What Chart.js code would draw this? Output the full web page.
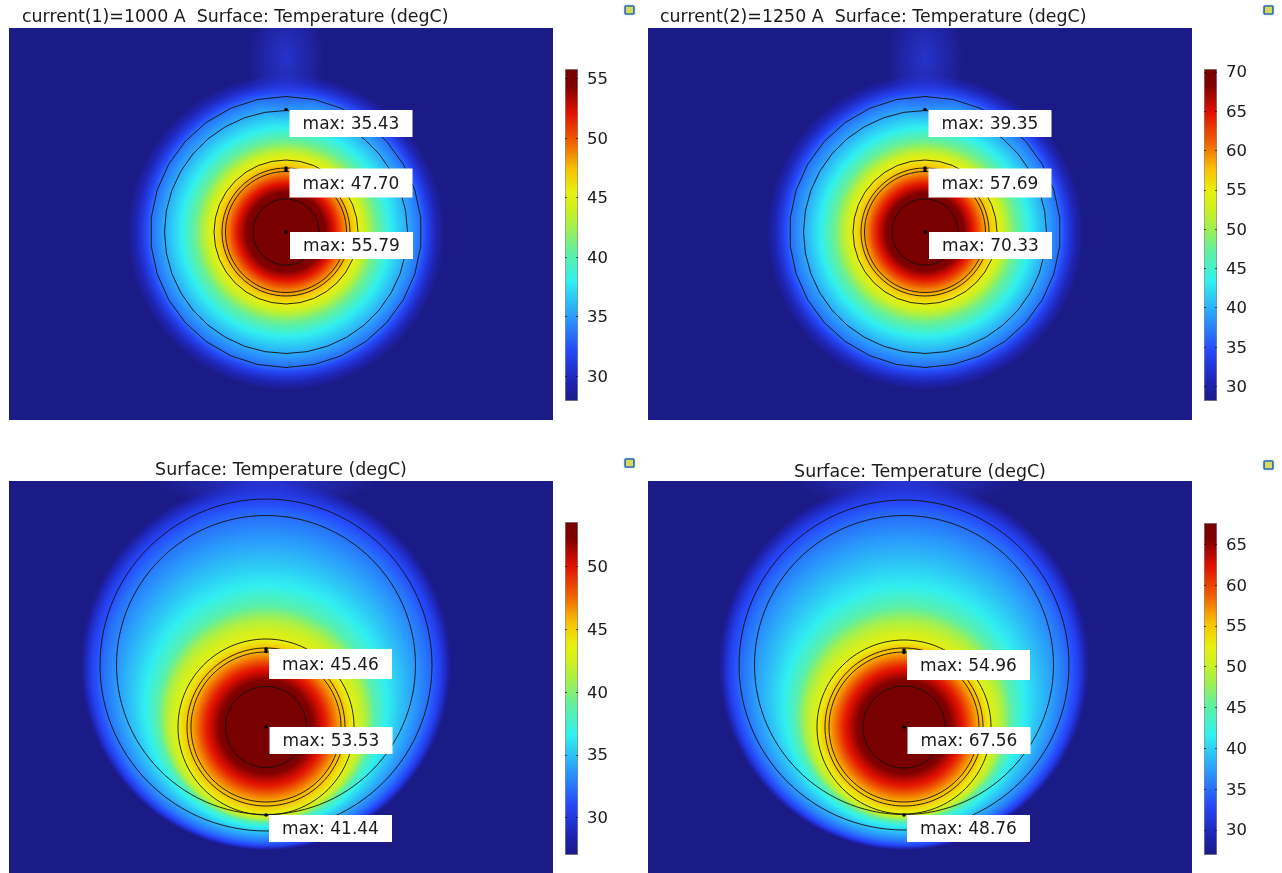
<!DOCTYPE html>
<html>
<head>
<meta charset="utf-8">
<title>Surface temperature</title>
<script src="https://cdn.jsdelivr.net/npm/chart.js@4/dist/chart.umd.min.js"></script>
<style>
  html, body { margin: 0; background: #fff; }
  body { position: relative; width: 1282px; height: 873px; overflow: hidden; }
  canvas { position: absolute; filter: blur(0.45px); }
  .icon { position: absolute; width: 9px; height: 8px; border-radius: 2px; background: #d8d860;
          border: 2px solid #2b6cb0; box-sizing: content-box; box-shadow: 0 0 3px #b8c4d8; transform: scale(.8); }
</style>
</head>
<body>
<script>
/* Four temperature panels. Plot units: x 0..544, y 0..392 from the top-left of each plot */
var TITLES = [
  'current(1)=1000 A  Surface: Temperature (degC)',
  'current(2)=1250 A  Surface: Temperature (degC)',
  'Surface: Temperature (degC)',
  'Surface: Temperature (degC)'
];
var TITLE_ALIGN = ['start', 'start', 'center', 'center'];
var TITLE_INSET = [13, 12, 0, 0];
var TITLE_TOP = [9, 9, 8.5, 10.3];

// colour table (fraction of range -> colour)
var COLOR_FRAC = [0, 0.06, 0.15, 0.25, 0.36, 0.45, 0.52, 0.58, 0.63, 0.70, 0.78, 0.87, 0.95, 1];
var COLOR_HEX = ['#1b1b88', '#1e24b4', '#2548fa', '#2a98fc', '#30f0f0', '#60f0a0', '#a0f050', '#d0f020', '#e8f010', '#f8c000', '#f06000', '#e01000', '#800000', '#780000'];

// colour bars
var BAR_MIN = [27.9, 28.1, 27.0, 26.9];
var BAR_MAX = [55.79, 70.33, 53.53, 67.56];
var TICKS_0 = [30, 35, 40, 45, 50, 55];
var TICKS_1 = [30, 35, 40, 45, 50, 55, 60, 65, 70];
var TICKS_2 = [30, 35, 40, 45, 50];
var TICKS_3 = [30, 35, 40, 45, 50, 55, 60, 65];

// cable core centre and the large outer circle centre
var CORE_X = [277, 277, 257, 256];
var CORE_Y = [204, 204, 246, 246];
var OUTER_X = [277, 277, 257, 256];
var OUTER_Y = [204, 204, 184, 184];

// circle radii: outer, inner, shell, shield, shield, core
var RINGS_0 = [135.5, 121.5, 72, 64, 60.5, 33];
var RINGS_1 = [135.5, 121.5, 72, 64, 60.5, 33];
var RINGS_2 = [166, 149.5, 88, 79, 75, 40.5];
var RINGS_3 = [165, 149.5, 87, 79, 75, 41];
var RING_SIDES_0 = [30, 36, 32, 72, 72, 72];
var RING_SIDES_2 = [120, 120, 120, 120, 120, 120];

// temperature profile inside the shell (radius -> degC)
var IN_R_0 = [0, 33, 40, 49, 57, 64, 72];
var IN_T_0 = [55.79, 55.5, 54.3, 51.9, 49.2, 47.7, 45.8];
var IN_T_1 = [70.33, 69.9, 67.8, 64, 60, 57.69, 55.1];
var IN_R_2 = [0, 40.5, 48, 60, 68, 75, 79, 88];
var IN_T_2 = [53.53, 53.3, 51.9, 49.55, 47.4, 45.9, 45.46, 43.45];
var IN_R_3 = [0, 41, 48, 60, 68, 75, 79, 87];
var IN_T_3 = [67.56, 67.15, 65.1, 61.5, 58.2, 55.8, 54.96, 52.1];

// temperature between the shell and the fade-out circle (0..1 across the gap -> degC)
var OUT_S_0 = [0, 0.07, 0.19, 0.38, 0.58, 0.73, 0.85, 1];
var OUT_T_0 = [45.6, 44.1, 41.3, 37.9, 35.43, 33.5, 30.7, 27.9];
var OUT_T_1 = [54.7, 52.6, 48.4, 43.3, 39.35, 36.55, 32.3, 28.1];
var OUT_S_2 = [0, 0.11, 0.22, 0.34, 0.47, 0.64, 0.77, 0.88, 0.95, 1];
var OUT_T_2 = [43.45, 41.44, 38.4, 36.55, 35.2, 33.6, 32.3, 30.7, 28.9, 27];
var OUT_T_3 = [52.1, 48.76, 44.4, 41.5, 39.5, 37.1, 35, 32.6, 29.7, 26.9];
var FADE_R = [158, 158, 185, 185];

// faint plume rising to the top of the plot
var PLUME_Y = [30, 30, -2, -2];
var PLUME_RX = [38, 38, 110, 110];
var PLUME_RY = [65, 65, 30, 30];
var PLUME_ALPHA = [0.65, 0.65, 0.7, 0.7];

// probes
var PROBE_X_0 = [277, 277, 277, 277];
var PROBE_Y_0 = [81.5, 140, 142.5, 204];
var PROBE_X_2 = [257, 257, 257, 257];
var PROBE_Y_2 = [168, 170.5, 246, 334];
var PROBE_X_3 = [256, 256, 256, 256];
var PROBE_Y_3 = [169, 171.5, 246, 334];

// max labels
var LABELS_0 = ['max: 35.43', 'max: 47.70', 'max: 55.79'];
var LABELS_1 = ['max: 39.35', 'max: 57.69', 'max: 70.33'];
var LABELS_2 = ['max: 45.46', 'max: 53.53', 'max: 41.44'];
var LABELS_3 = ['max: 54.96', 'max: 67.56', 'max: 48.76'];
var LABEL_X_0 = [280.5, 280.5, 281];
var LABEL_Y_0 = [82, 140.5, 204];
var LABEL_H_0 = [27, 29, 27];
var LABEL_X_2 = [260, 260.5, 260];
var LABEL_Y_2 = [168, 246, 334];
var LABEL_H_2 = [30, 27, 27];
var LABEL_X_3 = [259, 259.5, 259];
var LABEL_Y_3 = [169, 246, 334];
var LABEL_W = 123;

var FONT = '"DejaVu Sans", sans-serif';
var PLOT_W = 544, PLOT_H = 392, TITLE_H = 28;
var PLOT_LEFT = [9, 648, 9, 648];
var PLOT_TOP = [28, 28, 481, 481];
var BAR_LEFT = [565, 1204, 565, 1204];
var BAR_TOP = [69, 69, 522, 523];
var BAR_H = [332, 332, 333, 332];
var ICON_X = [623, 1262, 623, 1262];
var ICON_Y = [4, 4, 457, 459];

function hexRgb(h) {
  return [parseInt(h.substr(1, 2), 16), parseInt(h.substr(3, 2), 16), parseInt(h.substr(5, 2), 16)];
}

function tableColor(f) {
  f = Math.max(0, Math.min(1, f));
  for (var i = 1; i < COLOR_FRAC.length; i++) {
    if (f <= COLOR_FRAC[i]) {
      var k = (f - COLOR_FRAC[i - 1]) / (COLOR_FRAC[i] - COLOR_FRAC[i - 1]);
      var a = hexRgb(COLOR_HEX[i - 1]), b = hexRgb(COLOR_HEX[i]);
      return 'rgb(' + Math.round(a[0] + (b[0] - a[0]) * k) + ',' + Math.round(a[1] + (b[1] - a[1]) * k) + ',' + Math.round(a[2] + (b[2] - a[2]) * k) + ')';
    }
  }
  return COLOR_HEX[COLOR_HEX.length - 1];
}

// colour stops for a profile; finer steps so the colour table survives canvas blending
function addStops(grad, pos, temps, lo, hi, posMax) {
  for (var i = 0; i < pos.length - 1; i++) {
    for (var j = 0; j < 10; j++) {
      var k = j / 10;
      var t = temps[i] + (temps[i + 1] - temps[i]) * k;
      grad.addColorStop((pos[i] + (pos[i + 1] - pos[i]) * k) / posMax, tableColor((t - lo) / (hi - lo)));
    }
  }
  grad.addColorStop(1, tableColor((temps[temps.length - 1] - lo) / (hi - lo)));
}

var fieldPlugin = {
  id: 'field',
  afterLayout: function (chart) {
    var p = chart.options.plugins.field;
    chart.titleBlock.left = p.titleInset;
  },
  beforeDatasetsDraw: function (chart) {
    var p = chart.options.plugins.field, ctx = chart.ctx, a = chart.chartArea;
    var sx = chart.scales.x, sy = chart.scales.y;
    var unit = sx.getPixelForValue(1) - sx.getPixelForValue(0);
    var cx = sx.getPixelForValue(p.coreX), cy = sy.getPixelForValue(p.coreY);
    var ox = sx.getPixelForValue(p.outerX), oy = sy.getPixelForValue(p.outerY);
    var shellR = p.inR[p.inR.length - 1];

    ctx.save();
    ctx.beginPath();
    ctx.rect(a.left, a.top, a.right - a.left, a.bottom - a.top);
    ctx.clip();

    var outer = ctx.createRadialGradient(cx, cy, shellR * unit, ox, oy, p.fadeR * unit);
    addStops(outer, p.outS, p.outT, p.lo, p.hi, 1);
    ctx.fillStyle = outer;
    ctx.fillRect(a.left, a.top, a.right - a.left, a.bottom - a.top);

    // plume
    ctx.save();
    ctx.translate(ox, sy.getPixelForValue(p.plumeY));
    ctx.scale(p.plumeRx * unit, p.plumeRy * unit);
    var pl = ctx.createRadialGradient(0, 0, 0, 0, 0, 1);
    pl.addColorStop(0, 'rgba(44,64,240,' + p.plumeAlpha + ')');
    pl.addColorStop(1, 'rgba(44,64,240,0)');
    ctx.fillStyle = pl;
    ctx.beginPath();
    ctx.arc(0, 0, 1, 0, Math.PI * 2);
    ctx.fill();
    ctx.restore();

    var inner = ctx.createRadialGradient(cx, cy, 0, cx, cy, shellR * unit);
    addStops(inner, p.inR, p.inT, p.lo, p.hi, shellR);
    ctx.fillStyle = inner;
    ctx.beginPath();
    ctx.arc(cx, cy, shellR * unit, 0, Math.PI * 2);
    ctx.fill();

    // boundaries
    ctx.strokeStyle = '#111';
    ctx.lineWidth = 0.9;
    p.rings.forEach(function (r, i) {
      var big = i < 2;
      var rx = big ? ox : cx, ry = big ? oy : cy;
      var n = p.sides[i];
      ctx.beginPath();
      for (var k = 0; k <= n; k++) {
        var ang = -Math.PI / 2 + k / n * Math.PI * 2;
        var px = rx + Math.cos(ang) * r * unit, py = ry + Math.sin(ang) * r * unit;
        if (k === 0) ctx.moveTo(px, py); else ctx.lineTo(px, py);
      }
      ctx.stroke();
    });
    ctx.restore();
  },
  afterDatasetsDraw: function (chart) {
    var p = chart.options.plugins.field, ctx = chart.ctx;
    var sx = chart.scales.x, sy = chart.scales.y;
    ctx.save();
    ctx.font = '17px ' + FONT;
    ctx.textAlign = 'center';
    ctx.textBaseline = 'middle';
    p.labels.forEach(function (txt, i) {
      var x0 = sx.getPixelForValue(p.labelX[i]), x1 = sx.getPixelForValue(p.labelX[i] + LABEL_W);
      var y0 = sy.getPixelForValue(p.labelY[i]), y1 = sy.getPixelForValue(p.labelY[i] + p.labelH[i]);
      ctx.fillStyle = '#fff';
      ctx.fillRect(x0, y0, x1 - x0, y1 - y0);
      ctx.fillStyle = '#1a1a1a';
      ctx.fillText(txt, (x0 + x1) / 2, (y0 + y1) / 2 + 1.5);
    });
    ctx.restore();
  }
};

// little tick dashes inside the colour bar
var barTicksPlugin = {
  id: 'barTicks',
  afterDatasetsDraw: function (chart) {
    var a = chart.chartArea, s = chart.scales.y, ctx = chart.ctx;
    ctx.save();
    ctx.strokeStyle = 'rgba(0,0,0,.6)';
    ctx.lineWidth = 1;
    s.ticks.forEach(function (t) {
      var y = Math.round(s.getPixelForValue(t.value)) + 0.5;
      ctx.beginPath();
      ctx.moveTo(a.left, y); ctx.lineTo(a.left + 2, y);
      ctx.moveTo(a.right - 2, y); ctx.lineTo(a.right, y);
      ctx.stroke();
    });
    ctx.restore();
  }
};

function addCanvas(left, top, w, h) {
  var c = document.createElement('canvas');
  c.width = w; c.height = h;
  c.style.left = left + 'px';
  c.style.top = top + 'px';
  c.style.width = w + 'px';
  c.style.height = h + 'px';
  document.body.appendChild(c);
  return c;
}

function drawField(i, d) {
  var c = addCanvas(PLOT_LEFT[i], PLOT_TOP[i] - TITLE_H, PLOT_W, PLOT_H + TITLE_H);
  var pts = d.probeX.map(function (x, k) { return { x: x, y: d.probeY[k] }; });
  new Chart(c, {
    type: 'scatter',
    data: { datasets: [{ data: pts, pointRadius: 1.8, pointBackgroundColor: '#000', pointBorderWidth: 0 }] },
    options: {
      responsive: false,
      animation: false,
      layout: { padding: 0, autoPadding: false },
      plugins: {
        legend: { display: false },
        tooltip: { enabled: false },
        title: {
          display: true, text: TITLES[i], align: TITLE_ALIGN[i], color: '#1a1a1a',
          font: { family: FONT, size: 17.4, weight: 'normal', lineHeight: 1 },
          padding: { top: TITLE_TOP[i], bottom: TITLE_H - 17.4 - TITLE_TOP[i] }
        },
        field: {
          titleInset: TITLE_INSET[i], coreX: CORE_X[i], coreY: CORE_Y[i], outerX: OUTER_X[i], outerY: OUTER_Y[i],
          lo: BAR_MIN[i], hi: BAR_MAX[i], fadeR: FADE_R[i],
          inR: d.inR, inT: d.inT, outS: d.outS, outT: d.outT, rings: d.rings, sides: d.sides,
          plumeY: PLUME_Y[i], plumeRx: PLUME_RX[i], plumeRy: PLUME_RY[i], plumeAlpha: PLUME_ALPHA[i],
          labels: d.labels, labelX: d.labelX, labelY: d.labelY, labelH: d.labelH
        }
      },
      scales: {
        x: { type: 'linear', min: 0, max: PLOT_W, display: false },
        y: { type: 'linear', min: 0, max: PLOT_H, reverse: true, display: false }
      }
    },
    plugins: [fieldPlugin]
  });
}

function drawBar(i, ticks) {
  var pad = 10, w = 62;
  var c = addCanvas(BAR_LEFT[i], BAR_TOP[i] - pad, w, BAR_H[i] + pad * 2);
  new Chart(c, {
    type: 'bar',
    data: {
      labels: ['T'],
      datasets: [{
        data: [[BAR_MIN[i], BAR_MAX[i]]],
        barPercentage: 1,
        categoryPercentage: 1,
        borderWidth: 1,
        borderColor: '#8a8a8a',
        borderSkipped: false,
        backgroundColor: function (ctx) {
          var area = ctx.chart.chartArea;
          if (!area) return '#000';
          var g = ctx.chart.ctx.createLinearGradient(0, area.bottom, 0, area.top);
          COLOR_FRAC.forEach(function (f, k) { g.addColorStop(f, COLOR_HEX[k]); });
          return g;
        }
      }]
    },
    options: {
      responsive: false,
      animation: false,
      layout: { padding: { top: pad, bottom: pad }, autoPadding: false },
      plugins: { legend: { display: false }, tooltip: { enabled: false } },
      scales: {
        x: { display: false },
        y: {
          position: 'right', min: BAR_MIN[i], max: BAR_MAX[i],
          border: { display: false },
          grid: { display: false },
          afterBuildTicks: function (s) { s.ticks = ticks.map(function (v) { return { value: v }; }); },
          afterFit: function (s) { s.width = w - 13; s.paddingTop = 0; s.paddingBottom = 0; },
          ticks: { color: '#1a1a1a', padding: 1, labelOffset: 1.5, autoSkip: false, font: { family: FONT, size: 16.5 } }
        }
      }
    },
    plugins: [barTicksPlugin]
  });
}

drawField(0, { inR: IN_R_0, inT: IN_T_0, outS: OUT_S_0, outT: OUT_T_0, rings: RINGS_0, sides: RING_SIDES_0,
  probeX: PROBE_X_0, probeY: PROBE_Y_0, labels: LABELS_0, labelX: LABEL_X_0, labelY: LABEL_Y_0, labelH: LABEL_H_0 });
drawField(1, { inR: IN_R_0, inT: IN_T_1, outS: OUT_S_0, outT: OUT_T_1, rings: RINGS_1, sides: RING_SIDES_0,
  probeX: PROBE_X_0, probeY: PROBE_Y_0, labels: LABELS_1, labelX: LABEL_X_0, labelY: LABEL_Y_0, labelH: LABEL_H_0 });
drawField(2, { inR: IN_R_2, inT: IN_T_2, outS: OUT_S_2, outT: OUT_T_2, rings: RINGS_2, sides: RING_SIDES_2,
  probeX: PROBE_X_2, probeY: PROBE_Y_2, labels: LABELS_2, labelX: LABEL_X_2, labelY: LABEL_Y_2, labelH: LABEL_H_2 });
drawField(3, { inR: IN_R_3, inT: IN_T_3, outS: OUT_S_2, outT: OUT_T_3, rings: RINGS_3, sides: RING_SIDES_2,
  probeX: PROBE_X_3, probeY: PROBE_Y_3, labels: LABELS_3, labelX: LABEL_X_3, labelY: LABEL_Y_3, labelH: LABEL_H_2 });

drawBar(0, TICKS_0);
drawBar(1, TICKS_1);
drawBar(2, TICKS_2);
drawBar(3, TICKS_3);

ICON_X.forEach(function (x, i) {
  var d = document.createElement('div');
  d.className = 'icon';
  d.style.left = x + 'px';
  d.style.top = ICON_Y[i] + 'px';
  document.body.appendChild(d);
});
</script>
</body>
</html>
